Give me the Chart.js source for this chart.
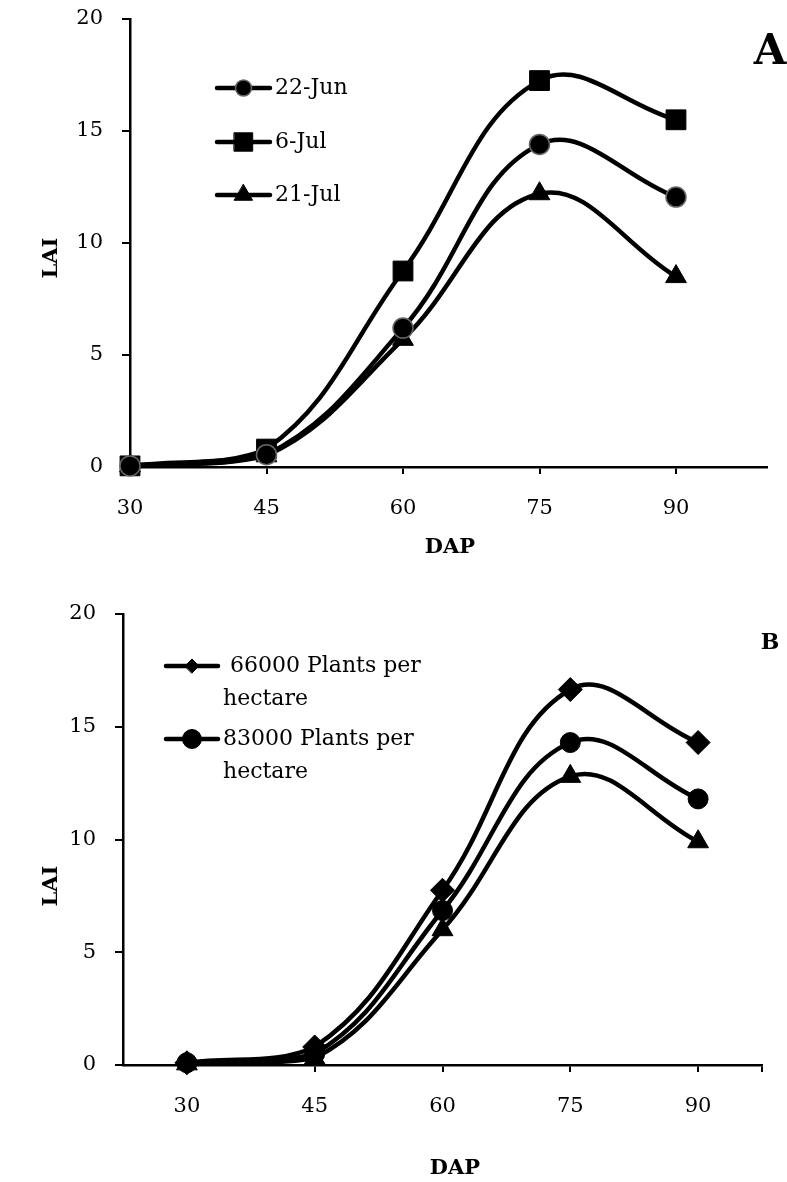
<!DOCTYPE html>
<html>
<head>
<meta charset="utf-8">
<script src="https://cdn.jsdelivr.net/npm/chart.js@4.4.1/dist/chart.umd.min.js"></script>
<style>
    html, body { margin: 0; padding: 0; background: #fff; }
    #wrap { position: relative; width: 787px; height: 1182px; }
    canvas { position: absolute; left: 0; }
    #chartA { top: 0; }
    #chartB { top: 590px; }
</style>
</head>
<body>
<div id="wrap">
    <canvas id="chartA" width="787" height="590"></canvas>
    <canvas id="chartB" width="787" height="592"></canvas>
</div>
<script>
// days after planting
var dap = [30, 45, 60, 75, 90];
var xTickLabels = ["30", "45", "60", "75", "90"];
var yTicks = [0, 5, 10, 15, 20];

// panel A: sowing dates
var sowingDates = ["22-Jun", "6-Jul", "21-Jul"];
var laiJun22 = [0.05, 0.55, 6.2, 14.4, 12.05];
var laiJul06 = [0.05, 0.8, 8.75, 17.25, 15.5];
var laiJul21 = [0.05, 0.5, 5.7, 12.2, 8.5];

// panel B: plant densities (third entry is cut off in the legend)
var densities = [" 66000 Plants per hectare", "83000 Plants per hectare", "third density"];
var lai66000 = [0.1, 0.8, 7.75, 16.65, 14.3];
var lai83000 = [0.1, 0.5, 6.85, 14.3, 11.8];
var laiThird = [0.05, 0.3, 6.0, 12.8, 9.9];

var serif = "'DejaVu Serif', 'Liberation Serif', serif";

function make_points(values) {
    return dap.map((d, i) => ({ x: d, y: values[i] }));
}

function get_dataset(label, values, style, radius, pointBorder) {
    return {
        label: label,
        data: make_points(values),
        borderColor: "#000",
        borderWidth: 4.5,
        pointStyle: style,
        pointRadius: radius,
        pointHoverRadius: radius,
        pointBackgroundColor: "#000",
        pointBorderColor: pointBorder || "#000",
        pointBorderWidth: pointBorder ? 1.5 : 1,
        tension: 0.4,
        fill: false,
        clip: false,
    };
}

function get_scales(xMin, xMax, xTicks, yWidth, xHeight) {
    return {
        x: {
            type: "linear",
            min: xMin,
            max: xMax,
            afterBuildTicks: (scale) => { scale.ticks = xTicks.map((v) => ({ value: v })); },
            afterFit: (scale) => {
                scale.height = xHeight;
                scale.paddingLeft = 0;
                scale.paddingRight = 0;
            },
            border: { color: "#000", width: 2.5 },
            grid: { drawOnChartArea: false, color: "#000", lineWidth: 2, tickLength: 7 },
            ticks: {
                color: "#000",
                font: { family: serif, size: 21 },
                padding: 22,
                maxRotation: 0,
                autoSkip: false,
                callback: (v) => { var i = dap.indexOf(v); return i >= 0 ? xTickLabels[i] : ""; },
            },
        },
        y: {
            min: 0,
            max: 20,
            afterBuildTicks: (scale) => { scale.ticks = yTicks.map((v) => ({ value: v })); },
            afterFit: (scale) => {
                scale.width = yWidth;
                scale.paddingTop = 0;
                scale.paddingBottom = 0;
            },
            border: { color: "#000", width: 2.5 },
            grid: { drawOnChartArea: false, color: "#000", lineWidth: 2, tickLength: 8 },
            ticks: { color: "#000", font: { family: serif, size: 21 }, padding: 19 },
        },
    };
}

function draw_marker(ctx, ds, radius, x, y) {
    ctx.fillStyle = ds.pointBackgroundColor;
    ctx.strokeStyle = ds.pointBorderColor;
    ctx.lineWidth = ds.pointBorderWidth;
    Chart.helpers.drawPoint(ctx, { pointStyle: ds.pointStyle, radius: radius, rotation: 0, borderWidth: ds.pointBorderWidth }, x, y);
}

var panelText = {
    id: "panelText",
    afterDraw(chart, args, opts) {
        var ctx = chart.ctx;
        ctx.save();
        ctx.textBaseline = "middle";
        for (var t of opts.texts) {
            ctx.save();
            ctx.fillStyle = "#000";
            ctx.textAlign = "center";
            ctx.font = t.font;
            ctx.translate(t.x, t.y);
            if (t.rotate) {
                ctx.rotate(-Math.PI / 2);
            }
            ctx.fillText(t.text, 0, 0);
            ctx.restore();
        }
        for (var item of opts.legend) {
            var ds = chart.data.datasets[item.dataset];
            ctx.strokeStyle = "#000";
            ctx.lineWidth = 4.5;
            ctx.lineCap = "round";
            ctx.beginPath();
            ctx.moveTo(item.x0, item.y);
            ctx.lineTo(item.x1, item.y);
            ctx.stroke();
            draw_marker(ctx, ds, item.radius, (item.x0 + item.x1) / 2, item.y);
            ctx.fillStyle = "#000";
            ctx.textAlign = "left";
            ctx.font = "22px " + serif;
            item.lines.forEach((line, i) => {
                ctx.fillText(line, item.textX, item.y + i * 33);
            });
        }
        ctx.restore();
    },
};

var chartA = new Chart("chartA", {
    type: "line",
    data: {
        datasets: [
            get_dataset(sowingDates[0], laiJun22, "circle", 10, "#666"),
            get_dataset(sowingDates[1], laiJul06, "rect", 14),
            get_dataset(sowingDates[2], laiJul21, "triangle", 12),
        ],
    },
    options: {
        responsive: false,
        animation: false,
        events: [],
        layout: { padding: { left: 0, top: 19, right: 20, bottom: 0 } },
        scales: get_scales(30, 100, [30, 45, 60, 75, 90], 130, 123),
        plugins: {
            legend: { display: false },
            tooltip: { enabled: false },
            panelText: {
                texts: [
                    { text: "LAI", x: 52, y: 258, rotate: true, font: "bold 21px " + serif },
                    { text: "DAP", x: 450, y: 548, font: "bold 21px " + serif },
                    { text: "A", x: 770, y: 53, font: "bold 42px " + serif },
                ],
                legend: [
                    { dataset: 0, x0: 217, x1: 270, y: 88, radius: 8, textX: 275, lines: [sowingDates[0]] },
                    { dataset: 1, x0: 217, x1: 270, y: 142, radius: 13, textX: 275, lines: [sowingDates[1]] },
                    { dataset: 2, x0: 217, x1: 270, y: 195, radius: 10.5, textX: 275, lines: [sowingDates[2]] },
                ],
            },
        },
    },
    plugins: [panelText],
});

var chartB = new Chart("chartB", {
    type: "line",
    data: {
        datasets: [
            get_dataset(densities[0], lai66000, "rectRot", 12),
            get_dataset(densities[1], lai83000, "circle", 10),
            get_dataset(densities[2], laiThird, "triangle", 12),
        ],
    },
    options: {
        responsive: false,
        animation: false,
        events: [],
        layout: { padding: { left: 0, top: 24, right: 25, bottom: 0 } },
        scales: get_scales(22.5, 97.5, [30, 45, 60, 75, 90, 97.5], 123, 117),
        plugins: {
            legend: { display: false },
            tooltip: { enabled: false },
            panelText: {
                texts: [
                    { text: "LAI", x: 52, y: 296, rotate: true, font: "bold 21px " + serif },
                    { text: "DAP", x: 455, y: 579, font: "bold 21px " + serif },
                    { text: "B", x: 770, y: 53, font: "bold 22px " + serif },
                ],
                legend: [
                    { dataset: 0, x0: 166, x1: 218, y: 76, radius: 7, textX: 223, lines: [" 66000 Plants per", "hectare"] },
                    { dataset: 1, x0: 166, x1: 218, y: 149, radius: 9.5, textX: 223, lines: ["83000 Plants per", "hectare"] },
                ],
            },
        },
    },
    plugins: [panelText],
});
</script>
</body>
</html>
